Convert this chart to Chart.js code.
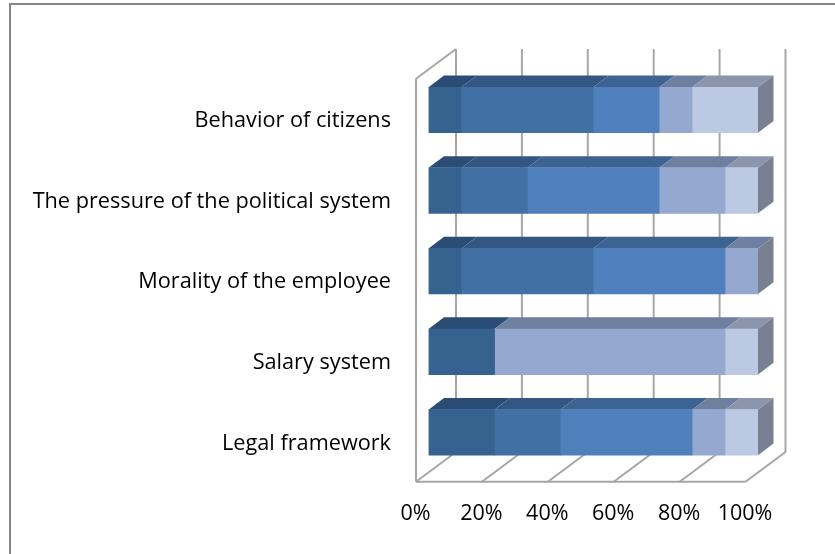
<!DOCTYPE html>
<html>
<head>
<meta charset="utf-8">
<title>Stacked bar</title>
<script src="https://cdn.jsdelivr.net/npm/chart.js@4"></script>
<style>
  html, body { margin: 0; padding: 0; background: #fff; }
  #wrap { position: relative; width: 835px; height: 554px; overflow: hidden; }
  /* the frame only shows on the top and left */
  #frame { position: absolute; left: 9px; top: 3px; right: 0; bottom: 0; border-top: 2px solid #868686; border-left: 2px solid #868686; }
  canvas { position: absolute; left: 0; top: 0; }
</style>
</head>
<body>
<div id="wrap">
  <div id="frame"></div>
  <canvas id="chart" width="835" height="554"></canvas>
</div>
<script>
// --- Data ---
const categories = ['Behavior of citizens', 'The pressure of the political system', 'Morality of the employee', 'Salary system', 'Legal framework'];
const series1 = [10, 10, 10, 20, 20];
const series2 = [40, 20, 40, 0, 20];
const series3 = [20, 40, 40, 0, 40];
const series4 = [10, 20, 10, 70, 10];
const series5 = [20, 10, 0, 10, 10];
const tickStep = 20;

const frontColors = ['#35628f', '#4270a5', '#4f80bd', '#95a8d0', '#bcc9e2'];
const topColors = ['#2b4c74', '#335682', '#3c6391', '#6e7f9f', '#8b96ac'];
const sideColor = '#798092';
const wallColor = '#a6a6a6';

// --- Fake 3D: box depth of the plot and of the bars, in px ---
const wallDepth = { x: 40, y: 29.7, frontX: -12.5, frontY: 9 };
const barDepth = { x: 15.5, y: 11.7 };

function line(ctx, x1, y1, x2, y2) {
  ctx.beginPath();
  ctx.moveTo(x1, y1);
  ctx.lineTo(x2, y2);
  ctx.stroke();
}

function poly(ctx, pts, color) {
  ctx.fillStyle = color;
  ctx.beginPath();
  pts.forEach((p, i) => i ? ctx.lineTo(p[0], p[1]) : ctx.moveTo(p[0], p[1]));
  ctx.closePath();
  ctx.fill();
}

const box3d = {
  id: 'box3d',
  beforeDatasetsDraw(chart) {
    const { ctx, chartArea, scales } = chart;
    const topBack = chartArea.top + wallDepth.frontY - wallDepth.y;
    const botFront = chartArea.bottom + wallDepth.frontY;
    const botBack = botFront - wallDepth.y;

    ctx.save();
    ctx.strokeStyle = wallColor;
    ctx.lineWidth = 2;

    // back wall verticals and floor lines, one per x tick
    scales.x.ticks.forEach(t => {
      const fx = scales.x.getPixelForValue(t.value) + wallDepth.frontX;
      const bx = fx + wallDepth.x;
      line(ctx, bx, topBack, bx, botBack);
      line(ctx, fx, botFront, bx, botBack);
    });

    // left wall and front edge of the floor
    const x0 = scales.x.getPixelForValue(0) + wallDepth.frontX;
    const x1 = scales.x.getPixelForValue(100) + wallDepth.frontX;
    line(ctx, x0, chartArea.top + wallDepth.frontY, x0, botFront);
    line(ctx, x0, chartArea.top + wallDepth.frontY, x0 + wallDepth.x, topBack);
    line(ctx, x0, botFront, x1, botFront);

    // top faces of the bars
    chart.data.datasets.forEach((ds, i) => {
      chart.getDatasetMeta(i).data.forEach((bar, j) => {
        if (!ds.data[j]) return;
        const top = bar.y - bar.height / 2;
        poly(ctx, [
          [bar.base, top], [bar.x, top],
          [bar.x + barDepth.x, top - barDepth.y], [bar.base + barDepth.x, top - barDepth.y]
        ], topColors[i]);
      });
    });

    // right end caps, always at the end of the stack
    const end = scales.x.getPixelForValue(100);
    chart.getDatasetMeta(0).data.forEach(bar => {
      const top = bar.y - bar.height / 2;
      const bottom = bar.y + bar.height / 2;
      poly(ctx, [
        [end, top], [end + barDepth.x, top - barDepth.y],
        [end + barDepth.x, bottom - barDepth.y], [end, bottom]
      ], sideColor);
    });
    ctx.restore();
  }
};

const seriesValues = [series1, series2, series3, series4, series5];

new Chart(document.getElementById('chart'), {
  type: 'bar',
  plugins: [box3d],
  data: {
    labels: categories,
    datasets: seriesValues.map((values, i) => ({
      label: 'Series ' + (i + 1),
      data: values,
      backgroundColor: frontColors[i],
      barThickness: 45.5
    }))
  },
  options: {
    indexAxis: 'y',
    responsive: false,
    animation: false,
    layout: { padding: { top: 69.7, right: 77, left: 0, bottom: 0 } },
    plugins: { legend: { display: false }, tooltip: { enabled: false } },
    scales: {
      x: {
        stacked: true,
        min: 0,
        max: 100,
        grid: { display: false },
        border: { display: false },
        afterFit(scale) { scale.height = 81.3; },
        ticks: {
          stepSize: tickStep,
          maxRotation: 0,
          autoSkip: false,
          padding: 20.5,
          labelOffset: -13,
          color: '#000',
          font: { family: 'Open Sans', size: 21.5 },
          callback: v => v + '%'
        }
      },
      y: {
        stacked: true,
        grid: { display: false },
        border: { display: false },
        afterFit(scale) { scale.width = 428.5; },
        ticks: {
          padding: 29.5,
          labelOffset: 11,
          color: '#000',
          font: { family: 'Open Sans', size: 21.7 }
        }
      }
    }
  }
});
</script>
</body>
</html>
